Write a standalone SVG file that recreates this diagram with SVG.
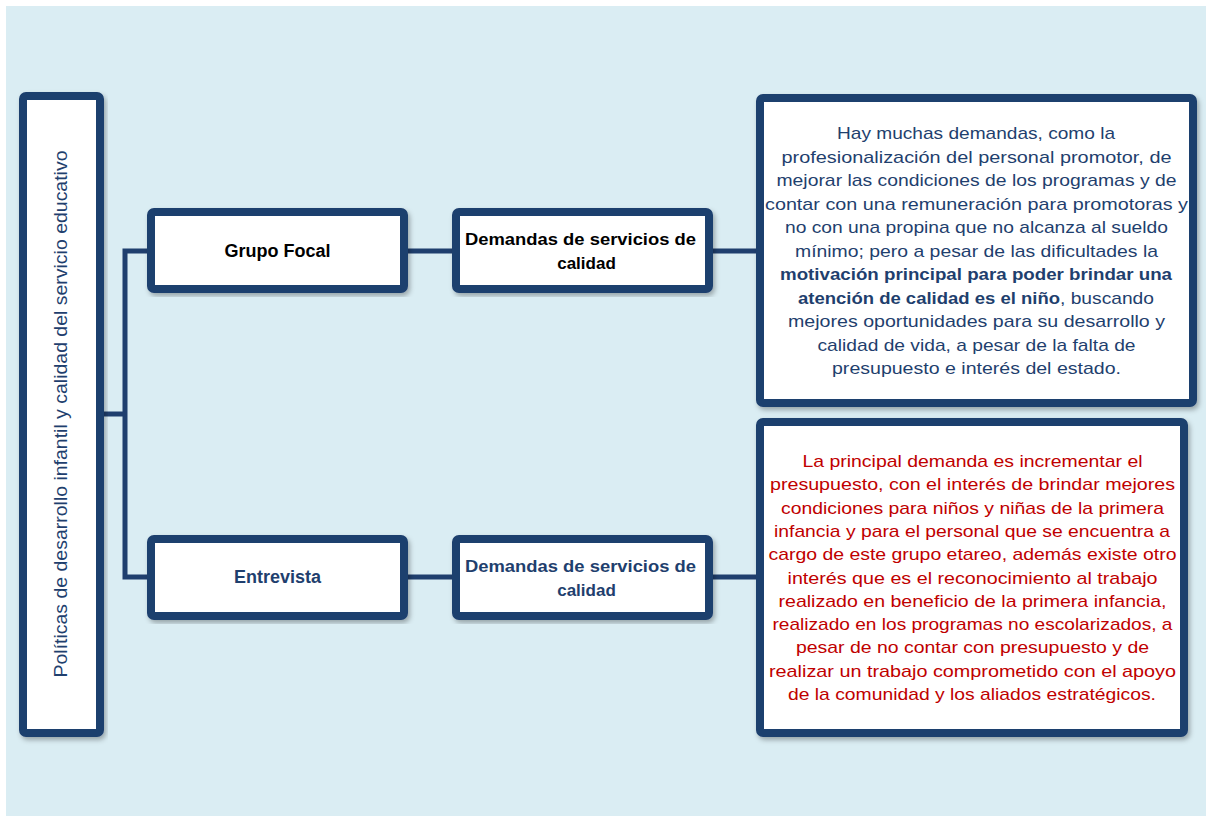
<svg xmlns="http://www.w3.org/2000/svg" width="1211" height="819" viewBox="0 0 1211 819">
<style>
.box{fill:#ffffff;stroke:#1F3F6E;stroke-width:8;filter:url(#sh)}
.conn{fill:none;stroke:#1F3F6E;stroke-width:5}
.t{font-family:"Liberation Sans",Arial,sans-serif;font-size:17px;text-anchor:middle}
.b{font-weight:bold}
.lg{font-size:18px}
.blue{fill:#1F3F6E}
.red{fill:#C00000}
.blk{fill:#000000}
</style>
<defs>
<filter id="sh" x="-10%" y="-10%" width="120%" height="120%">
<feDropShadow dx="2" dy="3" stdDeviation="2.5" flood-color="#000000" flood-opacity="0.3"/>
</filter>
</defs>
<rect x="6" y="6" width="1200" height="810" fill="#DAEDF3"/>
<g id="connectors">
<path class="conn" d="M147,251 H125 V577 H147"/>
<path class="conn" d="M104,414 H125"/>
<path class="conn" d="M408,251 H452"/>
<path class="conn" d="M713,251 H756"/>
<path class="conn" d="M408,577 H452"/>
<path class="conn" d="M713,577 H756"/>
</g>
<g id="root">
<rect class="box" x="23" y="96" width="77" height="637" rx="3"/>
<text class="t lg blue" transform="translate(67,414) rotate(-90)" textLength="527" lengthAdjust="spacingAndGlyphs">Políticas de desarrollo infantil y calidad del servicio educativo</text>
</g>
<g id="grupo-focal">
<rect class="box" x="151" y="212" width="253" height="77" rx="3"/>
<text class="t lg b blk" x="277.5" y="257">Grupo Focal</text>
</g>
<g id="demandas-1">
<rect class="box" x="456" y="212" width="253" height="77" rx="3"/>
<text class="t b blk" x="580.5" y="245" textLength="231" lengthAdjust="spacingAndGlyphs">Demandas de servicios de</text>
<text class="t b blk" x="586.5" y="269">calidad</text>
</g>
<g id="entrevista">
<rect class="box" x="151" y="539" width="253" height="77" rx="3"/>
<text class="t lg b blue" x="277.5" y="583">Entrevista</text>
</g>
<g id="demandas-2">
<rect class="box" x="456" y="539" width="253" height="77" rx="3"/>
<text class="t b blue" x="580.5" y="572" textLength="231" lengthAdjust="spacingAndGlyphs">Demandas de servicios de</text>
<text class="t b blue" x="586.5" y="596">calidad</text>
</g>
<g id="texto-grupo-focal">
<rect class="box" x="760" y="98" width="433" height="305" rx="3"/>
<text class="t blue" x="976" y="139" textLength="278" lengthAdjust="spacingAndGlyphs">Hay muchas demandas, como la</text>
<text class="t blue" x="976.5" y="162.5" textLength="390" lengthAdjust="spacingAndGlyphs">profesionalización del personal promotor, de</text>
<text class="t blue" x="976.5" y="186" textLength="400" lengthAdjust="spacingAndGlyphs">mejorar las condiciones de los programas y de</text>
<text class="t blue" x="976.5" y="209.5" textLength="423" lengthAdjust="spacingAndGlyphs">contar con una remuneración para promotoras y</text>
<text class="t blue" x="976.5" y="233" textLength="383" lengthAdjust="spacingAndGlyphs">no con una propina que no alcanza al sueldo</text>
<text class="t blue" x="976.5" y="256.5" textLength="363" lengthAdjust="spacingAndGlyphs">mínimo; pero a pesar de las dificultades la</text>
<text class="t b blue" x="976" y="280" textLength="392" lengthAdjust="spacingAndGlyphs">motivación principal para poder brindar una</text>
<text class="t blue" y="303.5" style="text-anchor:start"><tspan class="b" x="798" textLength="262" lengthAdjust="spacingAndGlyphs">atención de calidad es el niño</tspan><tspan x="1060" textLength="94" lengthAdjust="spacingAndGlyphs">, buscando</tspan></text>
<text class="t blue" x="976.5" y="327" textLength="377" lengthAdjust="spacingAndGlyphs">mejores oportunidades para su desarrollo y</text>
<text class="t blue" x="976.5" y="350.5" textLength="318" lengthAdjust="spacingAndGlyphs">calidad de vida, a pesar de la falta de</text>
<text class="t blue" x="976.5" y="374" textLength="289" lengthAdjust="spacingAndGlyphs">presupuesto e interés del estado.</text>
</g>
<g id="texto-entrevista">
<rect class="box" x="760" y="422" width="424" height="311" rx="3"/>
<text class="t red" x="972.5" y="467" textLength="340" lengthAdjust="spacingAndGlyphs">La principal demanda es incrementar el</text>
<text class="t red" x="972.5" y="490.3" textLength="405" lengthAdjust="spacingAndGlyphs">presupuesto, con el interés de brindar mejores</text>
<text class="t red" x="972.5" y="513.6" textLength="383" lengthAdjust="spacingAndGlyphs">condiciones para niños y niñas de la primera</text>
<text class="t red" x="972" y="536.9" textLength="396" lengthAdjust="spacingAndGlyphs">infancia y para el personal que se encuentra a</text>
<text class="t red" x="972.5" y="560.2" textLength="408" lengthAdjust="spacingAndGlyphs">cargo de este grupo etareo, además existe otro</text>
<text class="t red" x="972.5" y="583.5" textLength="370" lengthAdjust="spacingAndGlyphs">interés que es el reconocimiento al trabajo</text>
<text class="t red" x="972.5" y="606.8" textLength="388" lengthAdjust="spacingAndGlyphs">realizado en beneficio de la primera infancia,</text>
<text class="t red" x="972.5" y="630.1" textLength="400" lengthAdjust="spacingAndGlyphs">realizado en los programas no escolarizados, a</text>
<text class="t red" x="972.5" y="653.4" textLength="353" lengthAdjust="spacingAndGlyphs">pesar de no contar con presupuesto y de</text>
<text class="t red" x="972.5" y="676.7" textLength="407" lengthAdjust="spacingAndGlyphs">realizar un trabajo comprometido con el apoyo</text>
<text class="t red" x="972" y="700" textLength="368" lengthAdjust="spacingAndGlyphs">de la comunidad y los aliados estratégicos.</text>
</g>
</svg>
